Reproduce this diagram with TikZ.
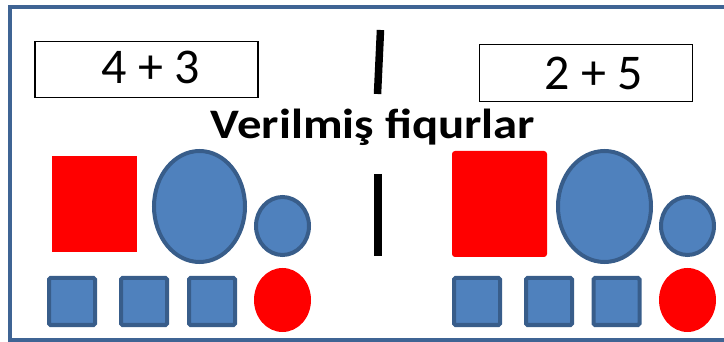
\documentclass[tikz,border=0pt]{standalone}
\usepackage{fontspec}
\setmainfont{Carlito}
\newfontfamily\titlefont[FakeStretch=1.16]{Carlito}
\usetikzlibrary{shapes.geometric}
\definecolor{framecol}{HTML}{3F6494}
\definecolor{shapefill}{HTML}{4F81BD}
\definecolor{shapeline}{HTML}{385D8A}
\tikzset{
  numbox/.style = {draw = black, line width = 1.3pt, minimum width = 223pt, minimum height = 56pt, inner sep = 0pt},
  numtext/.style = {font = \fontsize{50}{56}\selectfont, anchor = base, inner sep = 0pt},
  redsq/.style = {fill = red, inner sep = 0pt},
  blueell/.style = {ellipse, draw = shapeline, fill = shapefill, line width = 4pt, inner sep = 0pt},
  bluesq/.style = {draw = shapeline, fill = shapefill, line width = 4pt, rounded corners = 1.5pt,
                   minimum width = 46pt, minimum height = 47pt, inner sep = 0pt},
  reddot/.style = {ellipse, fill = red, minimum width = 57pt, minimum height = 64pt, inner sep = 0pt},
  bar/.style = {line width = 7.5pt}
}
\begin{document}
\begin{tikzpicture}[x = 1pt, y = -1pt]
                \useasboundingbox (0,0) rectangle (724,342);
                \draw[draw = framecol, line width = 4pt] (9.5,7) rectangle (740,340);
                % sums
                \node[numbox] (sumL) at (146.5,69.5) {};
                \node[numtext] (txtL) at (151,84) {4 + 3};
                \node[numbox, minimum width = 213pt, minimum height = 57pt] (sumR) at (586,73) {};
                \node[numtext] (txtR) at (594,90) {2 + 5};
                % title
                \node[font = \titlefont\fontsize{42}{48}\bfseries, anchor = base, inner sep = 0pt] (title) at (373,139) {Verilmiş fiqurlar};
                % dividers
                \draw[bar] (380.5,30) -- (377.5,94);
                \draw[bar] (378,174) -- (378,256);
                % left set
                \node[redsq, minimum width = 85pt, minimum height = 96pt] (bigsqL) at (94.5,204) {};
                \node[blueell, minimum width = 91pt, minimum height = 111pt] (bigellL) at (199.5,206.5) {};
                \node[blueell, minimum width = 53pt, minimum height = 58pt] (smellL) at (282.5,226) {};
                \node[bluesq] (sqL1) at (72,301.5) {};
                \node[bluesq] (sqL2) at (144,301.5) {};
                \node[bluesq] (sqL3) at (212,301.5) {};
                \node[reddot] (dotL) at (282.5,300) {};
                % right set
                \node[redsq, rounded corners = 3pt, minimum width = 95pt, minimum height = 106pt] (bigsqR) at (499.5,204) {};
                \node[blueell, minimum width = 93pt, minimum height = 111pt] (bigellR) at (604.5,206.5) {};
                \node[blueell, minimum width = 53pt, minimum height = 58pt] (smellR) at (687.5,226) {};
                \node[bluesq] (sqR1) at (477,301.5) {};
                \node[bluesq] (sqR2) at (549,301.5) {};
                \node[bluesq] (sqR3) at (616.5,301.5) {};
                \node[reddot] (dotR) at (687.5,300) {};
\end{tikzpicture}
\end{document}
